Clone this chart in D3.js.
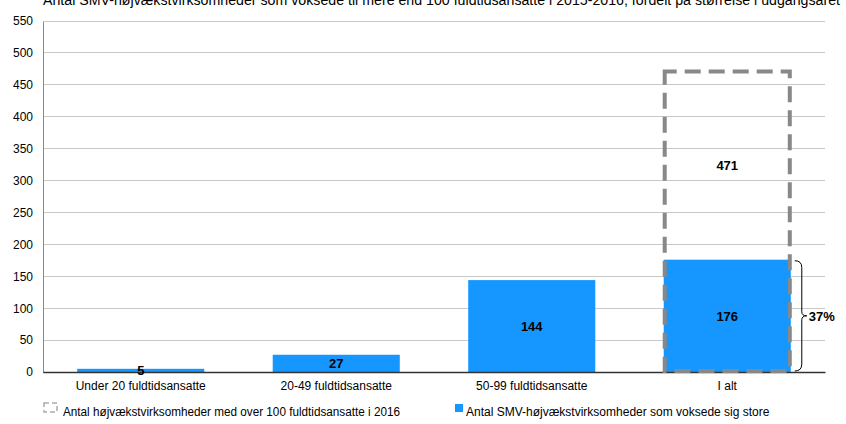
<!DOCTYPE html>
<html><head><meta charset="utf-8">
<script src="https://cdn.jsdelivr.net/npm/d3@7"></script>
<style>body{margin:0;background:#fff;} text{font-family:"Liberation Sans",Arial,sans-serif;}</style>
</head><body><svg id="c" width="846" height="424"></svg>
<script>
const title = "Antal SMV-højvækstvirksomheder som voksede til mere end 100 fuldtidsansatte i 2015-2016, fordelt på størrelse i udgangsåret";
const categories = ["Under 20 fuldtidsansatte","20-49 fuldtidsansatte","50-99 fuldtidsansatte","I alt"];
const grownValues = [5,27,144,176];
const totalLabel = "I alt";
const totalOver100 = 471;
const shareLabel = "37%";
const yTicks = [0,50,100,150,200,250,300,350,400,450,500,550];
const legendLabels = ["Antal højvækstvirksomheder med over 100 fuldtidsansatte i 2016","Antal SMV-højvækstvirksomheder som voksede sig store"];

const svg = d3.select("#c");
const m = {l:43, r:21, t:21, b:52};
const W = 846, H = 424;
const x = d3.scaleBand().domain(categories).range([m.l, W-m.r]).paddingInner(0.35).paddingOuter(0.175);
const y = d3.scaleLinear().domain([0,550]).range([H-m.b, m.t]);

// title (cut off at the top edge, as in the reference)
svg.append("text").attr("x",43).attr("y",5).attr("font-size",14)
  .attr("textLength",797).attr("lengthAdjust","spacingAndGlyphs").attr("fill","#000").text(title);

// gridlines
svg.append("g").selectAll("line").data(yTicks.filter(d=>d>0)).join("line")
  .attr("x1",m.l).attr("x2",W-m.r).attr("y1",d=>y(d)).attr("y2",d=>y(d))
  .attr("stroke","#c8c8c8").attr("stroke-width",1).attr("shape-rendering","crispEdges");

// y axis
const ya = svg.append("g").attr("transform",`translate(${m.l},0)`)
  .call(d3.axisLeft(y).tickValues(yTicks).tickSize(0).tickPadding(10));
ya.select(".domain").attr("stroke","#888").attr("shape-rendering","crispEdges");
ya.selectAll("text").attr("font-size",12).attr("fill","#000").attr("font-family","Liberation Sans, Arial, sans-serif");

// bars
svg.append("g").selectAll("rect").data(categories).join("rect")
  .attr("x",d=>x(d)).attr("width",x.bandwidth())
  .attr("y",(d,i)=>y(grownValues[i])).attr("height",(d,i)=>y(0)-y(grownValues[i]))
  .attr("fill","#1597ff");

// x axis
const xa = svg.append("g").attr("transform",`translate(0,${y(0)})`)
  .call(d3.axisBottom(x).tickSize(0).tickPadding(9));
xa.select(".domain").attr("stroke","#333").attr("stroke-width",1.3);
xa.selectAll("text").attr("font-size",12).attr("fill","#000").attr("font-family","Liberation Sans, Arial, sans-serif");

// dashed total box
const bx = x(totalLabel), bw = x.bandwidth();
svg.append("rect").attr("x",bx+1).attr("y",y(totalOver100)).attr("width",bw-2).attr("height",y(0)-y(totalOver100)-1)
  .attr("fill","none").attr("stroke","#888").attr("stroke-width",4).attr("stroke-dasharray","16,8").attr("stroke-dashoffset",4);

// value labels
svg.append("g").selectAll("text").data(categories).join("text")
  .attr("x",d=>x(d)+x.bandwidth()/2).attr("y",(d,i)=>(y(grownValues[i])+y(0))/2).attr("dy","0.36em")
  .attr("text-anchor","middle").attr("font-size",13).attr("font-weight","bold").attr("fill","#000")
  .text((d,i)=>grownValues[i]);
const gi = categories.indexOf(totalLabel);
svg.append("text").attr("x",bx+bw/2).attr("y",(y(totalOver100)+y(grownValues[gi]))/2).attr("dy","0.36em")
  .attr("text-anchor","middle").attr("font-size",13).attr("font-weight","bold").text(totalOver100);

// brace
const bt = y(grownValues[gi]), bb = y(0), bxr = bx+bw+4, bm = (bt+bb)/2;
svg.append("path").attr("d",`M${bxr},${bt+1} Q${bxr+7},${bt+1} ${bxr+7},${bt+8} L${bxr+7},${bm-4} Q${bxr+7},${bm} ${bxr+12},${bm} Q${bxr+7},${bm} ${bxr+7},${bm+4} L${bxr+7},${bb-8} Q${bxr+7},${bb-1} ${bxr},${bb-1}`)
  .attr("fill","none").attr("stroke","#000").attr("stroke-width",1);
svg.append("text").attr("x",bxr+14).attr("y",bm).attr("dy","0.36em").attr("font-size",13).attr("font-weight","bold").text(shareLabel);

// legend
const lg = svg.append("g");
lg.append("rect").attr("x",44).attr("y",403).attr("width",13).attr("height",9).attr("fill","none")
  .attr("stroke","#aaa").attr("stroke-width",1.5).attr("stroke-dasharray","5,3");
lg.append("text").attr("x",63).attr("y",416).attr("font-size",12).attr("textLength",337).attr("lengthAdjust","spacingAndGlyphs").text(legendLabels[0]);
lg.append("rect").attr("x",455).attr("y",404).attr("width",8).attr("height",8).attr("fill","#1597ff");
lg.append("text").attr("x",466).attr("y",416).attr("font-size",12).text(legendLabels[1]);
</script></body></html>
